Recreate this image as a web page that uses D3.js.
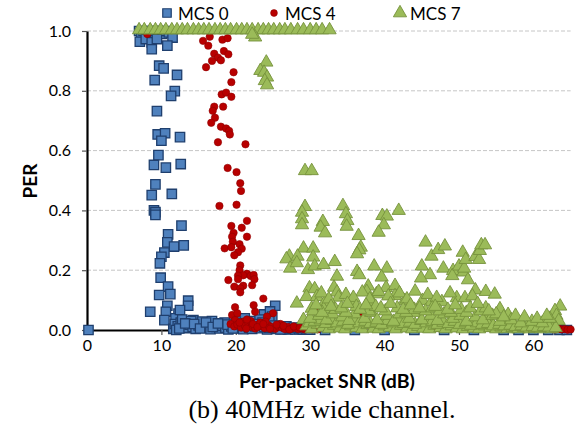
<!DOCTYPE html>
<html>
<head>
<meta charset="utf-8">
<script src="https://cdn.jsdelivr.net/npm/d3@7"></script>
<style>
  html, body { margin: 0; padding: 0; background: #fff; }
  svg { display: block; }
</style>
</head>
<body>
<svg id="chart" width="575" height="435"></svg>
<script>
// Series names shown in the legend
const seriesNames = ["MCS 0", "MCS 4", "MCS 7"];

// Axis ticks
const xTicks = [0, 10, 20, 30, 40, 50, 60];
const yTicks = [0.0, 0.2, 0.4, 0.6, 0.8, 1.0];

// MCS 0: [per-packet SNR (dB), PER]
const mcs0 = [
  [7.0,1.0],[7.3,0.99],[7.6,1.0],[8.0,0.995],[8.4,1.0],[8.8,0.99],[9.2,1.0],[9.6,1.0],[10.1,0.99],[10.5,1.0],[11.0,0.995],
  [11.5,0.978],[7.1,0.964],[7.9,0.973],[8.7,0.962],[8.7,0.939],[9.4,0.973],[10.8,0.951],
  [9.7,0.884],[10.3,0.875],[9.1,0.836],[12.1,0.853],[11.8,0.799],[11.3,0.783],[9.4,0.732],
  [9.5,0.654],[10.5,0.658],[10.0,0.633],[12.5,0.645],[9.6,0.585],[9.0,0.552],[10.6,0.543],[12.6,0.555],
  [9.2,0.487],[8.7,0.451],[11.4,0.455],[9.0,0.400],[9.2,0.394],[9.2,0.385],[12.7,0.349],[10.9,0.320],
  [10.8,0.293],[11.7,0.279],[13.0,0.283],[10.4,0.259],[10.0,0.245],[9.8,0.223],[9.9,0.175],[10.9,0.145],
  [9.7,0.117],[11.2,0.120],[13.6,0.098],[13.6,0.081],[8.5,0.061],[10.8,0.081],[10.6,0.061],[12.3,0.055],
  [10.4,0.033],[11.9,0.039],[14.3,0.022],[13.2,0.006],[11.6,0.004],[0.2,0.0],[12.5,0.067],[14.3,0.033],
  [25.3,0.081],[23.8,0.052],[21.2,0.039],[24.6,0.062],[24.9,0.045],
  [11.8,0.02],[12.2,0.012],[12.6,0.025],[13.0,0.015],[13.4,0.008],[13.8,0.018],[14.2,0.01],[14.6,0.004],
  [15.0,0.015],[15.4,0.02],[15.8,0.008],[16.2,0.012],[16.6,0.003],[17.0,0.016],[17.4,0.01],[17.8,0.005],
  [18.2,0.014],[18.6,0.008],[19.0,0.002],[19.4,0.012],[19.8,0.018],[20.2,0.006],[20.6,0.01],[21.0,0.003],
  [21.4,0.014],[21.8,0.008],[22.2,0.004],[22.6,0.012],[23.0,0.018],[23.4,0.006],[23.8,0.01],[24.2,0.002],
  [24.6,0.015],[25.0,0.008],[25.4,0.004],[25.8,0.01],[26.2,0.003],[26.6,0.006],[27.0,0.002],[27.5,0.004],
  [28.0,0.002],[28.5,0.003],[29.0,0.001],[29.5,0.002],[30.0,0.001],
  [12.8,0.035],[14.0,0.03],[15.5,0.028],[16.8,0.03],[18.5,0.025],[20.0,0.028],[22.0,0.03],[23.2,0.035],[24.5,0.03],
  [12.0,0.0],[12.4,0.005],[13.2,0.022],[14.4,0.02],[15.2,0.005],[16.0,0.025],[16.9,0.01],[17.6,0.022],
  [18.9,0.018],[19.6,0.005],[20.4,0.022],[21.2,0.02],[22.4,0.02],[23.6,0.025],[24.4,0.008],[25.2,0.015],
  [26.0,0.002],[26.8,0.012],[27.8,0.008],[28.8,0.006],
  [32,0],[36,0],[40,0],[44,0],[48,0],[52,0],[56,0],[58,0],[60,0],[62,0],[63.5,0],[64.5,0]
];

// MCS 4: [per-packet SNR (dB), PER]
const mcs4 = [
  [8.1,0.99],[15.6,0.967],[16.3,0.951],[16.5,0.981],[18.2,0.971],[18.9,0.976],[17.1,0.924],[18.4,0.933],
  [19.0,0.922],[17.6,0.911],[18.0,0.902],[16.8,0.900],[16.0,0.879],[19.7,0.862],[19.4,0.829],[18.1,0.788],
  [18.7,0.794],[19.4,0.780],[17.1,0.747],[16.9,0.733],[18.3,0.747],[17.2,0.710],[16.7,0.693],[18.0,0.680],
  [18.7,0.674],[19.1,0.666],[19.2,0.654],[17.6,0.628],[21.3,0.621],[18.9,0.542],[20.1,0.528],[20.6,0.491],
  [20.7,0.465],[17.8,0.415],[20.1,0.419],[21.5,0.365],[19.4,0.348],[20.8,0.342],[19.7,0.325],[19.5,0.312],
  [21.5,0.312],[19.6,0.295],[20.5,0.287],[18.5,0.273],[19.4,0.277],[20.8,0.272],[20.3,0.260],[19.8,0.250],
  [20.6,0.216],[20.5,0.200],[21.5,0.188],[21.0,0.183],[20.3,0.182],[22.0,0.181],[22.4,0.184],[22.5,0.170],
  [19.0,0.167],[20.3,0.170],[21.0,0.148],[22.2,0.150],[19.8,0.145],[20.6,0.139],[20.6,0.126],[23.7,0.105],
  [22.4,0.083],[19.9,0.076],[22.6,0.061],[25.0,0.056],[19.5,0.050],[20.2,0.056],[24.2,0.045],[19.9,0.033],
  [21.0,0.028],
  [19.3,0.02],[19.8,0.012],[20.2,0.018],[20.7,0.008],[21.2,0.015],[21.7,0.022],[22.1,0.01],[22.6,0.005],
  [23.0,0.018],[23.5,0.012],[23.9,0.006],[24.4,0.015],[24.8,0.01],[25.3,0.004],[25.7,0.012],[26.2,0.008],
  [26.6,0.003],[27.0,0.01],[27.5,0.005],[28.0,0.007],[28.4,0.003],[28.9,0.005],[29.3,0.002],[29.8,0.004],
  [30.3,0.002],[22.0,0.03],[23.3,0.025],[21.5,0.035],[26.0,0.02],[24.0,0.028],
  [20.5,0.025],[21.4,0.005],[22.3,0.02],[22.9,0.01],[23.7,0.02],[24.6,0.004],[25.5,0.018],[26.4,0.014],
  [27.2,0.002],[27.8,0.012],[28.6,0.008],[29.5,0.006],[30.6,0.004],[31.0,0.002],
  [31.3,0.061],[36.5,0.054],[37.1,0.045],[34.0,0.02],[38.0,0.015],[40.0,0.02],[42.0,0.01],[44.0,0.015],[47.0,0.008],
  [62.6,0.003],[63.0,0.002],[63.4,0.004],[63.8,0.002],[64.2,0.003],[64.6,0.001],[65.0,0.002]
];

// MCS 7: [per-packet SNR (dB), PER]
const mcs7 = [
  [7.0,1],[7.7,1],[8.5,1],[9.2,1],[9.9,1],[10.6,1],[11.4,1],[12.1,1],[12.8,1],[13.5,1],[14.3,1],[15.0,1],
  [15.7,1],[16.4,1],[17.2,1],[17.9,1],[18.6,1],[19.3,1],[20.1,1],[20.8,1],[21.5,1],[22.2,1],[23.0,1],[23.7,1],
  [24.4,1],[25.1,1],[25.9,1],[26.6,1],[27.4,1],[28.3,1],[29.1,1],[30.0,1],[30.8,1],[31.6,1],[32.6,1],
  [22.6,0.976],[22.2,0.985],
  [24.1,0.892],[23.3,0.864],[23.8,0.858],[24.2,0.842],[23.9,0.830],[24.2,0.816],
  [29.3,0.529],[30.2,0.529],[29.3,0.409],[28.9,0.390],[28.9,0.368],[28.9,0.348],[34.4,0.412],[34.8,0.385],
  [35.0,0.362],[34.9,0.343],[31.7,0.359],[31.4,0.340],[32.0,0.321],[39.7,0.379],[40.3,0.377],[39.9,0.348],
  [39.2,0.323],[41.9,0.396],[36.5,0.312],[36.8,0.273],[36.6,0.264],[36.3,0.251],[45.5,0.290],[46.3,0.243],
  [47.2,0.265],[29.1,0.270],[30.4,0.270],[27.2,0.243],[26.8,0.234],[28.3,0.243],[27.3,0.203],[28.2,0.221],
  [30.4,0.240],[29.7,0.198],[30.6,0.210],[31.8,0.215],[33.3,0.225],[33.6,0.176],[36.3,0.192],[36.6,0.181],
  [38.6,0.210],[40.3,0.203],[39.6,0.173],[45.0,0.210],[46.1,0.181],[44.9,0.170],[29.9,0.137],[30.6,0.134],
  [29.5,0.108],[30.9,0.108],[33.2,0.139],[33.6,0.123],[33.8,0.106],[37.8,0.143],[37.6,0.125],[37.0,0.123],
  [38.9,0.117],[40.2,0.138],[41.4,0.145],[41.4,0.111],[44.1,0.126],[45.1,0.095],[28.2,0.086],[32.0,0.091],
  [35.6,0.095],[38.3,0.091],[42.7,0.095],[46.3,0.091],[30.2,0.069],[31.8,0.067],[29.1,0.031],
  [48.1,0.277],[47.9,0.203],[49.2,0.195],[49.1,0.178],[50.0,0.210],[50.6,0.190],[50.7,0.203],[51.2,0.164],
  [50.5,0.256],[50.9,0.232],[52.2,0.242],[52.7,0.232],[52.8,0.262],[53.0,0.281],[53.5,0.281],[52.2,0.130],
  [53.6,0.125],[54.8,0.116],[49.7,0.104],[50.8,0.104],[47.7,0.091],[55.5,0.067],[56.6,0.048],[53.9,0.039],
  [63.6,0.076],[62.9,0.061],[63.1,0.045],[63.4,0.028],
  [31.5,0.12],[32.5,0.10],[34.8,0.115],[35.8,0.105],[38.0,0.10],[39.2,0.125],[40.5,0.11],[42.0,0.12],
  [43.0,0.10],[45.8,0.115],[47.0,0.105],[48.8,0.12],[51.8,0.11],
  [29.5,0.01],[30.2,0.0],[31.0,0.015],[31.7,0.005],[32.5,0.0],[33.2,0.012],[34.0,0.003],[34.7,0.0],
  [35.5,0.01],[36.2,0.004],[37.0,0.0],[37.7,0.014],[38.5,0.002],[39.2,0.0],[40.0,0.01],[40.7,0.005],
  [41.5,0.0],[42.2,0.012],[43.0,0.003],[43.7,0.0],[44.5,0.008],[45.2,0.002],[46.0,0.0],[46.7,0.012],
  [47.5,0.004],[48.2,0.0],[49.0,0.01],[49.7,0.003],[50.5,0.0],[51.2,0.008],[52.0,0.002],[52.7,0.0],
  [53.5,0.01],[54.2,0.004],[55.0,0.0],[55.7,0.006],[56.5,0.0],[57.2,0.004],[58.0,0.0],[58.7,0.005],
  [59.5,0.0],[60.2,0.003],[61.0,0.0],[61.7,0.004],[62.5,0.0],
  [29.9,0.02],[30.6,0.025],[31.4,0.03],[32.1,0.018],[32.9,0.028],[33.6,0.02],[34.4,0.025],[35.1,0.015],
  [35.9,0.03],[36.6,0.02],[37.4,0.025],[38.1,0.018],[38.9,0.022],[39.6,0.015],[40.4,0.028],[41.1,0.02],
  [41.9,0.03],[42.6,0.018],[43.4,0.022],[44.1,0.015],[44.9,0.028],[45.6,0.02],[46.4,0.025],[47.1,0.015],
  [47.9,0.022],[48.6,0.018],[49.4,0.025],[50.1,0.015],[50.9,0.02],[51.6,0.012],[52.4,0.02],[53.1,0.015],
  [53.9,0.018],[54.6,0.01],[55.4,0.015],[56.1,0.01],[56.9,0.012],[57.6,0.008],[58.4,0.01],[59.1,0.006],
  [59.9,0.008],[60.6,0.005],[61.4,0.008],[62.1,0.006],[63.0,0.004],
  [30.0,0.035],[31.2,0.045],[32.2,0.03],[33.0,0.05],[34.3,0.04],[35.2,0.028],[36.0,0.05],[37.3,0.035],
  [38.2,0.055],[39.0,0.03],[40.3,0.045],[41.2,0.025],[42.0,0.05],[43.3,0.035],[44.2,0.055],[45.0,0.03],
  [46.2,0.045],[47.1,0.028],[48.0,0.05],[49.2,0.035],[50.2,0.045],[51.0,0.025],[52.2,0.04],[53.2,0.03],
  [54.5,0.045],[55.5,0.025],[57.0,0.03],[58.3,0.02],[59.8,0.025],[61.2,0.02],[62.2,0.035],
  [30.4,0.06],[31.6,0.055],[33.4,0.065],[34.8,0.055],[36.2,0.075],[37.9,0.06],[38.8,0.075],[40.1,0.06],
  [41.7,0.07],[42.9,0.055],[44.0,0.065],[45.5,0.06],[46.4,0.07],[47.4,0.06],[48.9,0.055],[50.3,0.065],
  [51.0,0.055],[52.9,0.06],[53.6,0.07],[55.0,0.05],[56.0,0.04],[57.6,0.045],[58.8,0.04],[60.5,0.035],[61.8,0.045],
  [30.8,0.08],[32.8,0.075],[34.2,0.07],[35.0,0.085],[36.7,0.065],[37.5,0.08],[39.5,0.07],[40.8,0.085],
  [42.5,0.065],[43.5,0.08],[44.7,0.07],[46.8,0.075],[48.5,0.065],[49.5,0.08],[51.5,0.07],[52.5,0.085],[54.0,0.06]
];

const svg = d3.select("#chart");
const sans = "Lato, 'Open Sans', sans-serif";

const x = d3.scaleLinear().domain([0, 65]).range([87, 570.6]);
const y = d3.scaleLinear().domain([0, 1]).range([330, 31]);

// dashed horizontal gridlines
svg.append("g")
  .selectAll("line")
  .data(yTicks.filter(d => d > 0))
  .join("line")
  .attr("x1", x(0)).attr("x2", x(65))
  .attr("y1", d => y(d)).attr("y2", d => y(d))
  .attr("stroke", "#c6c6c6")
  .attr("stroke-width", 1)
  .attr("stroke-dasharray", "4,2");

// y axis
const yAxis = svg.append("g")
  .attr("transform", `translate(${x(0)},0)`)
  .call(d3.axisLeft(y).tickValues(yTicks).tickFormat(d3.format(".1f")).tickSize(5).tickSizeOuter(0));
yAxis.select(".domain").attr("stroke", "#000").attr("stroke-width", 2.2);
yAxis.selectAll(".tick line").attr("stroke", "#555").attr("stroke-width", 1.2);
yAxis.selectAll(".tick text")
  .attr("x", -16)
  .attr("font-family", sans).attr("font-size", 16).attr("fill", "#000");

// x axis
const xAxis = svg.append("g")
  .attr("transform", `translate(0,${y(0)})`)
  .call(d3.axisBottom(x).tickValues(xTicks).tickFormat(d3.format("d")).tickSize(5).tickSizeOuter(0));
xAxis.select(".domain").attr("stroke", "#000").attr("stroke-width", 2.2);
xAxis.selectAll(".tick line").attr("stroke", "#555").attr("stroke-width", 1.2);
xAxis.selectAll(".tick text")
  .attr("y", 10)
  .attr("font-family", sans).attr("font-size", 16).attr("fill", "#000");

// marker shapes
const squarePath = d3.symbol().type(d3.symbolSquare).size(88)();
const trianglePath = d3.symbol().type(d3.symbolTriangle).size(76)();

function drawSquares(g, data) {
  g.selectAll("path")
    .data(data)
    .join("path")
    .attr("d", squarePath)
    .attr("transform", d => `translate(${x(d[0])},${y(d[1])})`)
    .attr("fill", "#4f81bd")
    .attr("stroke", "#1f3f6e")
    .attr("stroke-width", 1.3);
}
function drawDots(g, data) {
  g.selectAll("circle")
    .data(data)
    .join("circle")
    .attr("cx", d => x(d[0]))
    .attr("cy", d => y(d[1]))
    .attr("r", 3.7)
    .attr("fill", "#b80000")
    .attr("stroke", "#8f0000")
    .attr("stroke-width", 0.6);
}
function drawTriangles(g, data) {
  g.selectAll("path")
    .data(data)
    .join("path")
    .attr("d", trianglePath)
    .attr("transform", d => `translate(${x(d[0])},${y(d[1]) - 1})`)
    .attr("fill", "#9bbb59")
    .attr("stroke", "#76923c")
    .attr("stroke-width", 0.9);
}

drawSquares(svg.append("g"), mcs0);
drawDots(svg.append("g"), mcs4);
drawTriangles(svg.append("g"), mcs7);

// legend
const legend = svg.append("g");
const legendItems = [
  { name: seriesNames[0], mx: 167, tx: 178, kind: "square" },
  { name: seriesNames[1], mx: 274, tx: 285, kind: "dot" },
  { name: seriesNames[2], mx: 400, tx: 410, kind: "triangle" }
];
legendItems.forEach(it => {
  if (it.kind === "square") {
    legend.append("path").attr("d", d3.symbol().type(d3.symbolSquare).size(72)())
      .attr("transform", `translate(${it.mx},13)`)
      .attr("fill", "#4f81bd").attr("stroke", "#1f3f6e").attr("stroke-width", 1.2);
  } else if (it.kind === "dot") {
    legend.append("circle").attr("cx", it.mx).attr("cy", 13).attr("r", 3.4)
      .attr("fill", "#b80000").attr("stroke", "#8f0000").attr("stroke-width", 0.6);
  } else {
    legend.append("path").attr("d", trianglePath)
      .attr("transform", `translate(${it.mx},13)`)
      .attr("fill", "#9bbb59").attr("stroke", "#76923c").attr("stroke-width", 0.9);
  }
  legend.append("text")
    .attr("x", it.tx).attr("y", 19.5)
    .attr("font-family", sans).attr("font-size", 17).attr("fill", "#000")
    .text(it.name);
});

// axis titles
svg.append("text")
  .attr("transform", "translate(37,181) rotate(-90)")
  .attr("text-anchor", "middle")
  .attr("font-family", sans).attr("font-size", 19).attr("font-weight", "bold")
  .text("PER");

svg.append("text")
  .attr("x", 327).attr("y", 388)
  .attr("text-anchor", "middle")
  .attr("font-family", sans).attr("font-size", 19.5).attr("font-weight", "bold")
  .text("Per-packet SNR (dB)");

// caption
svg.append("text")
  .attr("x", 322).attr("y", 418)
  .attr("text-anchor", "middle")
  .attr("font-family", "'Liberation Serif', 'DejaVu Serif', serif").attr("font-size", 26)
  .text("(b) 40MHz wide channel.");
</script>
</body>
</html>
